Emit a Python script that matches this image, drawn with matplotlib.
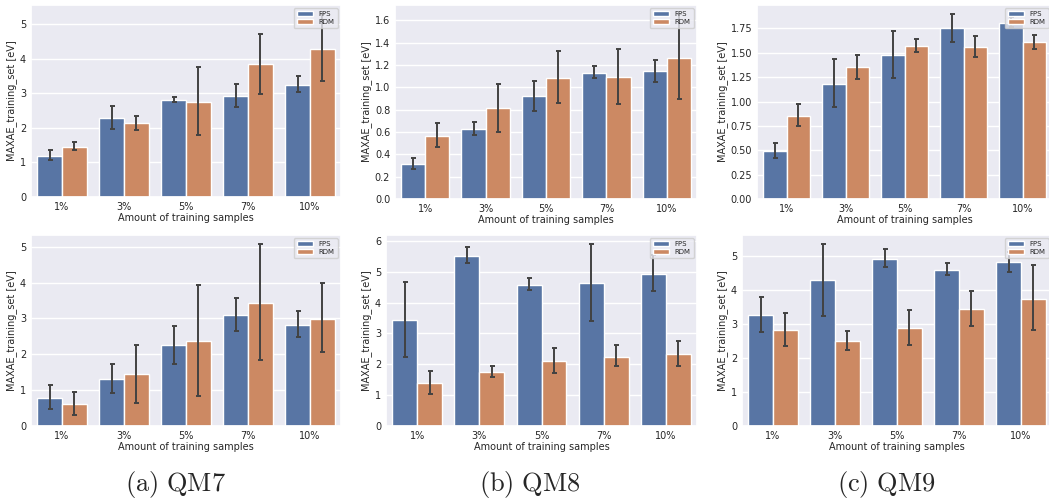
import numpy as np
import matplotlib
matplotlib.use("Agg")
import matplotlib.pyplot as plt
from matplotlib.ticker import MultipleLocator
import seaborn as sns

# ---------------------------------------------------------------- data
categories = ["1%", "3%", "5%", "7%", "10%"]
series = ["FPS", "RDM"]

# top row -------------------------------------------------------------
qm7_top_fps = [1.19, 2.29, 2.82, 2.92, 3.26]
qm7_top_fps_lo = [1.06, 1.97, 2.75, 2.60, 3.03]
qm7_top_fps_hi = [1.35, 2.63, 2.91, 3.27, 3.51]
qm7_top_rdm = [1.46, 2.14, 2.76, 3.85, 4.30]
qm7_top_rdm_lo = [1.36, 1.95, 1.79, 2.99, 3.37]
qm7_top_rdm_hi = [1.58, 2.36, 3.77, 4.72, 5.30]

qm8_top_fps = [0.314, 0.628, 0.921, 1.130, 1.142]
qm8_top_fps_lo = [0.272, 0.571, 0.789, 1.086, 1.047]
qm8_top_fps_hi = [0.365, 0.688, 1.059, 1.187, 1.247]
qm8_top_rdm = [0.568, 0.813, 1.086, 1.088, 1.262]
qm8_top_rdm_lo = [0.463, 0.604, 0.858, 0.846, 0.894]
qm8_top_rdm_hi = [0.682, 1.032, 1.325, 1.346, 1.654]

qm9_top_fps = [0.495, 1.182, 1.476, 1.750, 1.805]
qm9_top_fps_lo = [0.423, 0.942, 1.244, 1.608, 1.760]
qm9_top_fps_hi = [0.575, 1.434, 1.726, 1.895, 1.870]
qm9_top_rdm = [0.856, 1.351, 1.566, 1.559, 1.611]
qm9_top_rdm_lo = [0.748, 1.230, 1.504, 1.455, 1.539]
qm9_top_rdm_hi = [0.977, 1.480, 1.639, 1.674, 1.684]

# bottom row ----------------------------------------------------------
qm7_bot_fps = [0.784, 1.325, 2.257, 3.088, 2.826]
qm7_bot_fps_lo = [0.466, 0.933, 1.735, 2.649, 2.481]
qm7_bot_fps_hi = [1.138, 1.735, 2.799, 3.582, 3.218]
qm7_bot_rdm = [0.625, 1.437, 2.379, 3.442, 2.994]
qm7_bot_rdm_lo = [0.308, 0.634, 0.849, 1.838, 2.062]
qm7_bot_rdm_hi = [0.951, 2.248, 3.927, 5.075, 3.983]

qm8_bot_fps = [3.438, 5.514, 4.573, 4.638, 4.919]
qm8_bot_fps_lo = [2.238, 5.276, 4.411, 3.405, 4.378]
qm8_bot_fps_hi = [4.670, 5.795, 4.778, 5.892, 5.530]
qm8_bot_rdm = [1.395, 1.751, 2.097, 2.249, 2.324]
qm8_bot_rdm_lo = [1.038, 1.589, 1.719, 1.935, 1.946]
qm8_bot_rdm_hi = [1.795, 1.946, 2.519, 2.616, 2.757]

qm9_bot_fps = [3.281, 4.283, 4.921, 4.597, 4.813]
qm9_bot_fps_lo = [2.780, 3.251, 4.676, 4.440, 4.519]
qm9_bot_fps_hi = [3.811, 5.354, 5.196, 4.784, 5.118]
qm9_bot_rdm = [2.839, 2.505, 2.888, 3.458, 3.752]
qm9_bot_rdm_lo = [2.367, 2.230, 2.387, 2.957, 2.819]
qm9_bot_rdm_hi = [3.320, 2.809, 3.409, 3.969, 4.745]

captions = [r"$\mathrm{(a)\ QM7}$", r"$\mathrm{(b)\ QM8}$", r"$\mathrm{(c)\ QM9}$"]
xlabel = "Amount of training samples"
ylabel = "MAXAE_training_set [eV]"

# ---------------------------------------------------------------- style
sns.set_theme(style="darkgrid")
plt.rcParams["font.family"] = ["DejaVu Sans"]
plt.rcParams["mathtext.fontset"] = "cm"

colors = ["#5875a4", "#cc8963"]
err_color = "#424242"
text_color = "#262626"

W, H = 1049, 500
fig = plt.figure(figsize=(W / 100, H / 100), dpi=100)
fig.patch.set_facecolor("white")


def add_axes(left, right, top, bottom):
    return fig.add_axes([left / W, 1 - bottom / H, (right - left) / W, (bottom - top) / H])


panels = [
    # (pixel box, data, y tick step)
    ((31, 341, 5, 197),
     (qm7_top_fps, qm7_top_fps_lo, qm7_top_fps_hi, qm7_top_rdm, qm7_top_rdm_lo, qm7_top_rdm_hi), 1.0),
    ((395, 697, 5, 199),
     (qm8_top_fps, qm8_top_fps_lo, qm8_top_fps_hi, qm8_top_rdm, qm8_top_rdm_lo, qm8_top_rdm_hi), 0.2),
    ((757, 1052, 5, 199),
     (qm9_top_fps, qm9_top_fps_lo, qm9_top_fps_hi, qm9_top_rdm, qm9_top_rdm_lo, qm9_top_rdm_hi), 0.25),
    ((31, 341, 235, 426),
     (qm7_bot_fps, qm7_bot_fps_lo, qm7_bot_fps_hi, qm7_bot_rdm, qm7_bot_rdm_lo, qm7_bot_rdm_hi), 1.0),
    ((386, 697, 235, 426),
     (qm8_bot_fps, qm8_bot_fps_lo, qm8_bot_fps_hi, qm8_bot_rdm, qm8_bot_rdm_lo, qm8_bot_rdm_hi), 1.0),
    ((742, 1052, 235, 426),
     (qm9_bot_fps, qm9_bot_fps_lo, qm9_bot_fps_hi, qm9_bot_rdm, qm9_bot_rdm_lo, qm9_bot_rdm_hi), 1.0),
]

x = np.arange(len(categories))
bw = 0.4

for box, data, step in panels:
    ax = add_axes(*box)
    groups = [(data[0], data[1], data[2]), (data[3], data[4], data[5])]
    for k, (name, (mean, lo, hi)) in enumerate(zip(series, groups)):
        mean = np.asarray(mean)
        err = np.vstack([mean - np.asarray(lo), np.asarray(hi) - mean])
        pos = x + (k - 0.5) * bw
        ax.bar(pos, mean, width=bw, color=colors[k], edgecolor="white",
               linewidth=1.0, label=name, zorder=2)
        ax.errorbar(pos, mean, yerr=err, fmt="none", ecolor=err_color,
                    elinewidth=1.4, capsize=1.8, capthick=1.4, zorder=3)
    ax.set_xlim(-0.5, len(categories) - 0.5)
    ax.set_xticks(x)
    ax.set_xticklabels(categories)
    ax.yaxis.set_major_locator(MultipleLocator(step))
    ax.tick_params(axis="both", labelsize=7, colors=text_color, length=0, pad=3.5)
    ax.set_xlabel(xlabel, fontsize=7, labelpad=1, color=text_color)
    ax.set_ylabel(ylabel, fontsize=7, labelpad=2, color=text_color)
    ax.grid(True, axis="y", color="white", linewidth=1.0)
    ax.grid(False, axis="x")
    ax.set_axisbelow(True)
    ax.legend(loc="upper right", fontsize=5, handlelength=2.4,
              handleheight=0.7, borderpad=0.4, labelspacing=0.3,
              handletextpad=0.8, framealpha=0.8)

for cx, cap in zip([175, 530, 886], captions):
    fig.text(cx / W, 1 - 484 / H, cap, fontsize=19, ha="center", va="center")

fig.savefig("out.png", dpi=100, facecolor="white")
